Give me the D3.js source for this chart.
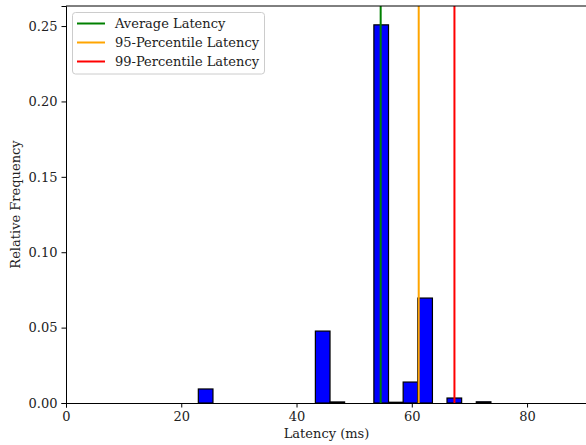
<!doctype html>
<html>
<head>
  <meta charset="utf-8">
  <title>Latency histogram</title>
  <style>
    body { margin: 0; background: #fff; }
    text { font-family: 'DejaVu Serif', serif; }
  </style>
</head>
<body>
  <svg width="586" height="445"></svg>

  <script src="https://d3js.org/d3.v7.min.js"></script>
  <script>
    // histogram bins (ms) and relative frequency
    const binEdges = [22.96, 25.50, 28.04, 30.57, 33.11, 35.65, 38.19, 40.73, 43.27, 45.81, 48.34,
                      50.88, 53.42, 55.96, 58.50, 61.04, 63.58, 66.11, 68.65, 71.19, 73.73];
    const freqs = [0.0093, 0, 0, 0, 0, 0, 0, 0, 0.0477, 0.0007,
                   0, 0, 0.2508, 0.0005, 0.0139, 0.0696, 0, 0.0033, 0, 0.0008];

    const markerNames = ['Average Latency', '95-Percentile Latency', '99-Percentile Latency'];
    const markerValues = [54.6, 61.2, 67.4];
    const markerColors = ['green', 'orange', 'red'];

    const xTicks = [0, 20, 40, 60, 80];
    const yTicks = [0, 0.05, 0.10, 0.15, 0.20, 0.25];

    const svg = d3.select('svg');
    const margin = { top: 6, left: 66, bottom: 42, right: -1 };
    const width = +svg.attr('width') - margin.left - margin.right;
    const height = +svg.attr('height') - margin.top - margin.bottom;
    const g = svg.append('g').attr('transform', `translate(${margin.left}, ${margin.top})`);

    const x = d3.scaleLinear().domain([0, 90.4]).range([0, width]);
    const y = d3.scaleLinear().domain([0, 0.2633]).range([height, 0]);

    const bins = freqs.map((f, i) => ({ x0: binEdges[i], x1: binEdges[i + 1], f }));

    // bars
    g.selectAll('rect.bar')
      .data(bins)
      .enter().append('rect')
      .attr('class', 'bar')
      .attr('x', d => x(d.x0))
      .attr('width', d => x(d.x1) - x(d.x0))
      .attr('y', d => y(d.f))
      .attr('height', d => y(0) - y(d.f))
      .attr('fill', 'blue')
      .attr('stroke', '#000')
      .attr('stroke-width', 1.2);

    // vertical marker lines
    g.selectAll('line.marker')
      .data(markerValues)
      .enter().append('line')
      .attr('x1', d => x(d)).attr('x2', d => x(d))
      .attr('y1', 0).attr('y2', height)
      .attr('stroke', (d, i) => markerColors[i])
      .attr('stroke-width', 2);

    // x axis
    const xAxis = g.append('g')
      .attr('transform', `translate(0, ${height})`)
      .attr('font-family', 'DejaVu Serif')
      .call(d3.axisBottom(x).tickValues(xTicks).tickSize(4.5).tickPadding(4).tickFormat(d3.format('d')));
    xAxis.attr('font-family', 'DejaVu Serif');
    xAxis.select('.domain').attr('stroke-width', 1);
    xAxis.selectAll('text').attr('font-size', 13).attr('fill', '#222');

    // y axis
    const yAxis = g.append('g')
      .call(d3.axisLeft(y).tickValues(yTicks).tickSize(4.5).tickPadding(4).tickFormat(d3.format('.2f')));
    yAxis.attr('font-family', 'DejaVu Serif');
    yAxis.select('.domain').attr('stroke-width', 1);
    yAxis.selectAll('text').attr('font-size', 13).attr('fill', '#222');

    // top spine
    g.append('line')
      .attr('x1', 0).attr('x2', width)
      .attr('y1', 0).attr('y2', 0)
      .attr('stroke', '#000').attr('stroke-width', 1);

    // axis labels
    svg.append('text')
      .attr('x', margin.left + width / 2)
      .attr('y', 438)
      .attr('text-anchor', 'middle')
      .attr('font-size', 13)
      .attr('fill', '#222')
      .text('Latency (ms)');

    svg.append('text')
      .attr('transform', `translate(20, ${margin.top + height / 2}) rotate(-90)`)
      .attr('text-anchor', 'middle')
      .attr('font-size', 13)
      .attr('fill', '#222')
      .text('Relative Frequency');

    // legend
    const legend = g.append('g').attr('transform', 'translate(6.5, 6.5)');
    legend.append('rect')
      .attr('width', 192).attr('height', 61.5)
      .attr('rx', 3).attr('ry', 3)
      .attr('fill', '#fff').attr('fill-opacity', 0.8)
      .attr('stroke', '#ccc');
    markerNames.forEach((name, i) => {
      const row = legend.append('g').attr('transform', `translate(0, ${11 + i * 19})`);
      row.append('line')
        .attr('x1', 4.5).attr('x2', 32.5)
        .attr('stroke', markerColors[i]).attr('stroke-width', 2);
      row.append('text')
        .attr('x', 42.5).attr('dy', '0.35em')
        .attr('font-size', 13)
        .attr('fill', '#222')
        .text(name);
    });
  </script>
</body>
</html>
